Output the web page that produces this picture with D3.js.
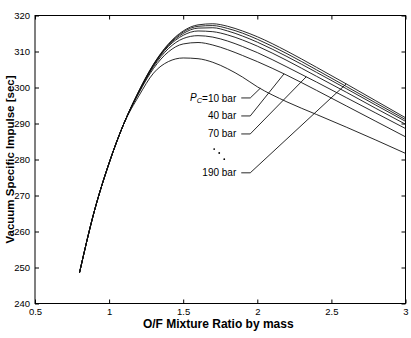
<!DOCTYPE html>
<html>
<head>
<meta charset="utf-8">
<script src="https://cdn.jsdelivr.net/npm/d3@7"></script>
<style>
html,body{margin:0;padding:0;background:#fff;}
svg{display:block;}
</style>
</head>
<body>
<svg id="chart" width="411" height="338"></svg>
<script>
// ---- data ----
const ofRatio = [0.8, 0.9, 1.0, 1.1, 1.2, 1.3, 1.4, 1.5, 1.6, 1.7, 1.8, 1.9, 2.0, 2.2, 2.4, 2.6, 2.8, 3.0];
const pressures = [10, 40, 70, 100, 130, 160, 190];
const isp10  = [248.5, 265.6, 279.0, 290.0, 297.6, 304.0, 307.2, 308.2, 308.0, 307.0, 305.2, 302.9, 300.2, 296.0, 292.5, 289.0, 285.4, 281.7];
const isp40  = [248.5, 265.6, 279.0, 290.0, 298.4, 305.3, 309.9, 312.1, 312.5, 311.8, 310.5, 308.9, 307.2, 303.4, 299.2, 294.9, 290.6, 286.3];
const isp70  = [248.5, 265.6, 279.0, 290.0, 298.6, 305.8, 310.8, 313.6, 314.4, 314.0, 312.9, 311.4, 309.7, 305.7, 301.5, 297.2, 292.9, 288.6];
const isp100 = [248.5, 265.6, 279.0, 290.0, 298.7, 306.1, 311.4, 314.5, 315.7, 315.5, 314.6, 313.2, 311.5, 307.5, 303.1, 298.7, 294.2, 289.8];
const isp130 = [248.5, 265.6, 279.0, 290.0, 298.8, 306.3, 311.7, 315.0, 316.5, 316.6, 315.7, 314.3, 312.6, 308.6, 304.2, 299.7, 295.1, 290.6];
const isp160 = [248.5, 265.6, 279.0, 290.0, 298.9, 306.4, 311.9, 315.4, 317.0, 317.2, 316.4, 315.1, 313.4, 309.4, 304.9, 300.3, 295.7, 291.1];
const isp190 = [248.5, 265.6, 279.0, 290.0, 299.0, 306.5, 312.1, 315.7, 317.4, 317.7, 317.0, 315.7, 314.1, 310.1, 305.6, 301.0, 296.3, 291.6];
const seriesValues = [isp10, isp40, isp70, isp100, isp130, isp160, isp190];

const xTicks = [0.5, 1, 1.5, 2, 2.5, 3];
const xTickLabels = ["0.5", "1", "1.5", "2", "2.5", "3"];
const yTicks = [240, 250, 260, 270, 280, 290, 300, 310, 320];

// annotation labels: which series, where the leader meets the curve (O/F), label height (Isp)
const annotLabels = ["10 bar", "40 bar", "70 bar", "190 bar"];
const annotSeries = [0, 1, 2, 6];
const annotOF = [2.02, 2.18, 2.33, 2.6];
const annotIsp = [297.1, 292.1, 287.1, 276.3];
const annotLabelOF = 1.858;
// ellipsis dots between "70 bar" and "190 bar"
const dotOF = [1.709, 1.743, 1.777];
const dotIsp = [282.9, 281.8, 280.1];

const xLabel = "O/F Mixture Ratio by mass";
const yLabel = "Vacuum Specific Impulse [sec]";

// ---- layout ----
const W = 411, H = 338;
const m = {left: 35, right: 5.5, top: 15.5, bottom: 34.5};
const x = d3.scaleLinear().domain([0.5, 3]).range([m.left, W - m.right]);
const y = d3.scaleLinear().domain([240, 320]).range([H - m.bottom, m.top]);

const svg = d3.select("#chart");
const font = "'Liberation Sans', Arial, Helvetica, sans-serif";

// frame
svg.append("rect")
  .attr("x", x(0.5)).attr("y", y(320))
  .attr("width", x(3) - x(0.5)).attr("height", y(240) - y(320))
  .attr("fill", "none").attr("stroke", "#000").attr("stroke-width", 1);

const tl = 4;
const axB = svg.append("g").attr("transform", `translate(0,${y(240)})`)
  .call(d3.axisBottom(x).tickValues(xTicks).tickSizeInner(-tl).tickSizeOuter(0)
        .tickPadding(5).tickFormat((d, i) => xTickLabels[i]));
const axT = svg.append("g").attr("transform", `translate(0,${y(320)})`)
  .call(d3.axisTop(x).tickValues(xTicks).tickSizeInner(-tl).tickSizeOuter(0).tickFormat(""));
const axL = svg.append("g").attr("transform", `translate(${x(0.5)},0)`)
  .call(d3.axisLeft(y).tickValues(yTicks).tickSizeInner(-tl).tickSizeOuter(0).tickPadding(5));
const axR = svg.append("g").attr("transform", `translate(${x(3)},0)`)
  .call(d3.axisRight(y).tickValues(yTicks).tickSizeInner(-tl).tickSizeOuter(0).tickFormat(""));
[axB, axT, axL, axR].forEach(g => {
  g.select(".domain").remove();
  g.selectAll("line").attr("stroke", "#000");
  g.selectAll("text").attr("fill", "#000").style("font-family", font).style("font-size", "9.5px");
});

// curves
const line = d3.line().x((d, i) => x(ofRatio[i])).y(d => y(d)).curve(d3.curveMonotoneX);
svg.append("g").selectAll("path").data(seriesValues).join("path")
  .attr("d", line).attr("fill", "none").attr("stroke", "#111").attr("stroke-width", 0.9);

function ispAt(vals, of) {
  for (let i = 0; i < ofRatio.length - 1; i++) {
    if (of >= ofRatio[i] && of <= ofRatio[i + 1]) {
      const t = (of - ofRatio[i]) / (ofRatio[i + 1] - ofRatio[i]);
      return vals[i] + t * (vals[i + 1] - vals[i]);
    }
  }
  return vals[vals.length - 1];
}

// annotations
const ag = svg.append("g");
annotLabels.forEach((lab, k) => {
  const ly = y(annotIsp[k]);
  const lx = x(annotLabelOF);
  const t = ag.append("text").attr("x", lx).attr("y", ly).attr("dy", "0.35em")
    .attr("text-anchor", "end").style("font-family", font).style("font-size", "10px");
  if (k === 0) {
    t.append("tspan").attr("font-style", "italic").text("P");
    t.append("tspan").attr("font-style", "italic").attr("font-size", "7.5px").attr("dy", "0.25em").text("C");
    t.append("tspan").attr("dy", "-0.1em").text("=" + lab);
  } else {
    t.text(lab);
  }
  const x0 = lx + 5, x1 = lx + 14;
  const ex = x(annotOF[k]), ey = y(ispAt(seriesValues[annotSeries[k]], annotOF[k]));
  ag.append("path").attr("d", `M${x0},${ly}L${x1},${ly}L${ex},${ey}`)
    .attr("fill", "none").attr("stroke", "#111").attr("stroke-width", 0.9);
});
ag.selectAll("circle").data(dotOF).join("circle")
  .attr("cx", d => x(d)).attr("cy", (d, i) => y(dotIsp[i])).attr("r", 0.9).attr("fill", "#000");

// axis titles
svg.append("text").attr("x", (x(0.5) + x(3)) / 2 - 2).attr("y", 328)
  .attr("text-anchor", "middle").style("font-family", font).style("font-size", "12px")
  .style("font-weight", "bold").text(xLabel);
svg.append("text").attr("transform", `translate(10,${(y(240) + y(320)) / 2}) rotate(-90)`)
  .attr("text-anchor", "middle").attr("dy", "0.35em").style("font-family", font).style("font-size", "11.5px")
  .style("font-weight", "bold").text(yLabel);
</script>
</body>
</html>
